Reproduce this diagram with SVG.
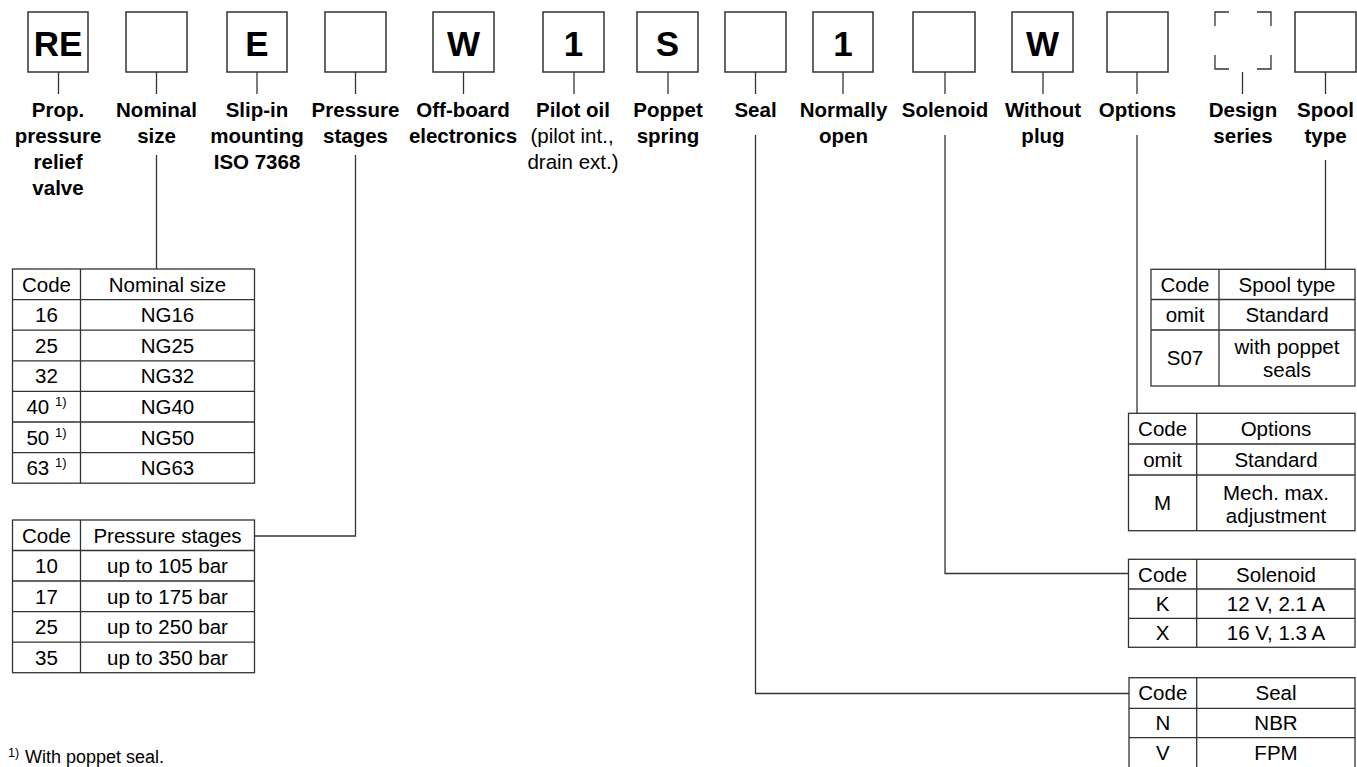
<svg xmlns="http://www.w3.org/2000/svg" width="1357" height="767" viewBox="0 0 1357 767">
<style>
.bx{fill:#fff;stroke:#333;stroke-width:1.5}
.ln{fill:none;stroke:#333;stroke-width:1.3}
.big{font-family:"Liberation Sans",Arial,sans-serif;font-weight:bold;font-size:35px;fill:#000;text-anchor:middle}
.lb{font-family:"Liberation Sans",Arial,sans-serif;font-weight:bold;font-size:20.5px;fill:#000;text-anchor:middle}
.lr{font-family:"Liberation Sans",Arial,sans-serif;font-size:20.5px;fill:#000;text-anchor:middle}
.tt{font-family:"Liberation Sans",Arial,sans-serif;font-size:20.5px;fill:#000;text-anchor:middle}
.tb{fill:#fff;stroke:#333;stroke-width:1.3}
.fn{font-family:"Liberation Sans",Arial,sans-serif;font-size:18px;fill:#000}
.fs{font-family:"Liberation Sans",Arial,sans-serif;font-size:12.5px;fill:#000}
</style>
<rect width="1357" height="767" fill="#fff"/>
<g id="n-re"><rect class="bx" x="28" y="12" width="60" height="60"/><text class="big" x="58" y="56">RE</text><line class="ln" x1="58.5" y1="72" x2="58.5" y2="94"/><text class="lb" x="58" y="117">Prop.</text><text class="lb" x="58" y="143">pressure</text><text class="lb" x="58" y="169">relief</text><text class="lb" x="58" y="195">valve</text></g>
<g id="n-size"><rect class="bx" x="126" y="12" width="61" height="60"/><line class="ln" x1="156.5" y1="72" x2="156.5" y2="94"/><text class="lb" x="156.5" y="117">Nominal</text><text class="lb" x="156.5" y="143">size</text></g>
<g id="n-e"><rect class="bx" x="227" y="12" width="60" height="60"/><text class="big" x="257" y="56">E</text><line class="ln" x1="257" y1="72" x2="257" y2="94"/><text class="lb" x="257" y="117">Slip-in</text><text class="lb" x="257" y="143">mounting</text><text class="lb" x="257" y="169">ISO 7368</text></g>
<g id="n-press"><rect class="bx" x="325" y="12" width="61" height="60"/><line class="ln" x1="355.5" y1="72" x2="355.5" y2="94"/><text class="lb" x="355.5" y="117">Pressure</text><text class="lb" x="355.5" y="143">stages</text></g>
<g id="n-w1"><rect class="bx" x="433" y="12" width="61" height="60"/><text class="big" x="463.5" y="56">W</text><line class="ln" x1="463.5" y1="72" x2="463.5" y2="94"/><text class="lb" x="463" y="117">Off-board</text><text class="lb" x="463" y="143">electronics</text></g>
<g id="n-pilot"><rect class="bx" x="543" y="12" width="61" height="60"/><text class="big" x="573.5" y="56">1</text><line class="ln" x1="574" y1="72" x2="574" y2="94"/><text class="lb" x="573" y="117">Pilot oil</text><text class="lr" x="572" y="143">(pilot int.,</text><text class="lr" x="573" y="169">drain ext.)</text></g>
<g id="n-s"><rect class="bx" x="637" y="12" width="61" height="60"/><text class="big" x="667.5" y="56">S</text><line class="ln" x1="668" y1="72" x2="668" y2="94"/><text class="lb" x="668" y="117">Poppet</text><text class="lb" x="668" y="143">spring</text></g>
<g id="n-seal"><rect class="bx" x="725" y="12" width="61" height="60"/><line class="ln" x1="755.5" y1="72" x2="755.5" y2="94"/><text class="lb" x="755.5" y="117">Seal</text></g>
<g id="n-no"><rect class="bx" x="813" y="12" width="60" height="60"/><text class="big" x="843" y="56">1</text><line class="ln" x1="843" y1="72" x2="843" y2="94"/><text class="lb" x="843.5" y="117">Normally</text><text class="lb" x="843.5" y="143">open</text></g>
<g id="n-sol"><rect class="bx" x="913" y="12" width="62" height="60"/><line class="ln" x1="945" y1="72" x2="945" y2="94"/><text class="lb" x="945" y="117">Solenoid</text></g>
<g id="n-w2"><rect class="bx" x="1012" y="12" width="61" height="60"/><text class="big" x="1042.5" y="56">W</text><line class="ln" x1="1043" y1="72" x2="1043" y2="94"/><text class="lb" x="1043" y="117">Without</text><text class="lb" x="1043" y="143">plug</text></g>
<g id="n-opt"><rect class="bx" x="1107" y="12" width="61" height="60"/><line class="ln" x1="1137" y1="72" x2="1137" y2="94"/><text class="lb" x="1137.5" y="117">Options</text></g>
<g id="n-design"><path class="ln" stroke-width="1.5" d="M1215,26 V12 H1229 M1257,12 H1271 V26 M1215,55 V69 H1229 M1257,69 H1271 V55"/><line class="ln" x1="1242.5" y1="72" x2="1242.5" y2="94"/><text class="lb" x="1243" y="117">Design</text><text class="lb" x="1243" y="143">series</text></g>
<g id="n-spool"><rect class="bx" x="1295" y="12" width="61" height="60"/><line class="ln" x1="1325.5" y1="72" x2="1325.5" y2="94"/><text class="lb" x="1325.5" y="117">Spool</text><text class="lb" x="1325.5" y="143">type</text></g>
<g id="connectors">
<polyline class="ln" points="156.5,155 156.5,269"/>
<polyline class="ln" points="355.5,155 355.5,536 254,536"/>
<polyline class="ln" points="755.5,135 755.5,693.5 1129,693.5"/>
<polyline class="ln" points="945,135 945,573.5 1128,573.5"/>
<polyline class="ln" points="1137,135 1137,413"/>
<polyline class="ln" points="1325.5,160 1325.5,269"/>
</g>
<g id="t-size">
<rect class="tb" x="12.5" y="269" width="242" height="214.2"/>
<path class="ln" d="M80.5,269 V483.2 M12.5,299.6 H254.5 M12.5,330.2 H254.5 M12.5,360.8 H254.5 M12.5,391.4 H254.5 M12.5,422 H254.5 M12.5,452.6 H254.5"/>
<text class="tt" x="46.5" y="291.6">Code</text><text class="tt" x="167.5" y="291.6">Nominal size</text>
<text class="tt" x="46.5" y="322.2">16</text><text class="tt" x="167.5" y="322.2">NG16</text>
<text class="tt" x="46.5" y="352.8">25</text><text class="tt" x="167.5" y="352.8">NG25</text>
<text class="tt" x="46.5" y="383.4">32</text><text class="tt" x="167.5" y="383.4">NG32</text>
<text class="tt" x="46.5" y="414">40 <tspan font-size="13" dy="-8">1)</tspan></text><text class="tt" x="167.5" y="414">NG40</text>
<text class="tt" x="46.5" y="444.6">50 <tspan font-size="13" dy="-8">1)</tspan></text><text class="tt" x="167.5" y="444.6">NG50</text>
<text class="tt" x="46.5" y="475.2">63 <tspan font-size="13" dy="-8">1)</tspan></text><text class="tt" x="167.5" y="475.2">NG63</text>
</g>
<g id="t-press">
<rect class="tb" x="12.5" y="520" width="242" height="152.7"/>
<path class="ln" d="M80.5,520 V672.7 M12.5,550.5 H254.5 M12.5,581 H254.5 M12.5,611.6 H254.5 M12.5,642.2 H254.5"/>
<text class="tt" x="46.5" y="542.5">Code</text><text class="tt" x="167.5" y="542.5">Pressure stages</text>
<text class="tt" x="46.5" y="573">10</text><text class="tt" x="167.5" y="573">up to 105 bar</text>
<text class="tt" x="46.5" y="603.5">17</text><text class="tt" x="167.5" y="603.5">up to 175 bar</text>
<text class="tt" x="46.5" y="634.2">25</text><text class="tt" x="167.5" y="634.2">up to 250 bar</text>
<text class="tt" x="46.5" y="664.7">35</text><text class="tt" x="167.5" y="664.7">up to 350 bar</text>
</g>
<g id="t-spool">
<rect class="tb" x="1151" y="269.3" width="204" height="116.7"/>
<path class="ln" d="M1219,269.3 V386 M1151,299.5 H1355 M1151,330 H1355"/>
<text class="tt" x="1185" y="291.6">Code</text><text class="tt" x="1287" y="291.6">Spool type</text>
<text class="tt" x="1185" y="322">omit</text><text class="tt" x="1287" y="322">Standard</text>
<text class="tt" x="1185" y="365.3">S07</text><text class="tt" x="1287" y="354">with poppet</text><text class="tt" x="1287" y="377">seals</text>
</g>
<g id="t-opt">
<rect class="tb" x="1128.5" y="413.3" width="226.5" height="117.4"/>
<path class="ln" d="M1196.7,413.3 V530.7 M1128.5,444 H1355 M1128.5,475 H1355"/>
<text class="tt" x="1162.6" y="436">Code</text><text class="tt" x="1276" y="436">Options</text>
<text class="tt" x="1162.6" y="467">omit</text><text class="tt" x="1276" y="467">Standard</text>
<text class="tt" x="1162.6" y="510.3">M</text><text class="tt" x="1276" y="499.5">Mech. max.</text><text class="tt" x="1276" y="522.5">adjustment</text>
</g>
<g id="t-sol">
<rect class="tb" x="1128.5" y="559.3" width="226.5" height="88"/>
<path class="ln" d="M1196.7,559.3 V647.3 M1128.5,589 H1355 M1128.5,618.3 H1355"/>
<text class="tt" x="1162.6" y="581.5">Code</text><text class="tt" x="1276" y="581.5">Solenoid</text>
<text class="tt" x="1162.6" y="611">K</text><text class="tt" x="1276" y="611">12 V, 2.1 A</text>
<text class="tt" x="1162.6" y="640.2">X</text><text class="tt" x="1276" y="640.2">16 V, 1.3 A</text>
</g>
<g id="t-seal">
<rect class="tb" x="1129" y="677.7" width="226" height="91"/>
<path class="ln" d="M1196.7,677.7 V768 M1129,708.3 H1355 M1129,737.7 H1355"/>
<text class="tt" x="1162.8" y="700.3">Code</text><text class="tt" x="1276" y="700.3">Seal</text>
<text class="tt" x="1162.8" y="730.3">N</text><text class="tt" x="1276" y="730.3">NBR</text>
<text class="tt" x="1162.8" y="759.7">V</text><text class="tt" x="1276" y="759.7">FPM</text>
</g>
<g id="footnote"><text class="fs" x="8" y="757">1)</text><text class="fn" x="25" y="763">With poppet seal.</text></g>
</svg>
